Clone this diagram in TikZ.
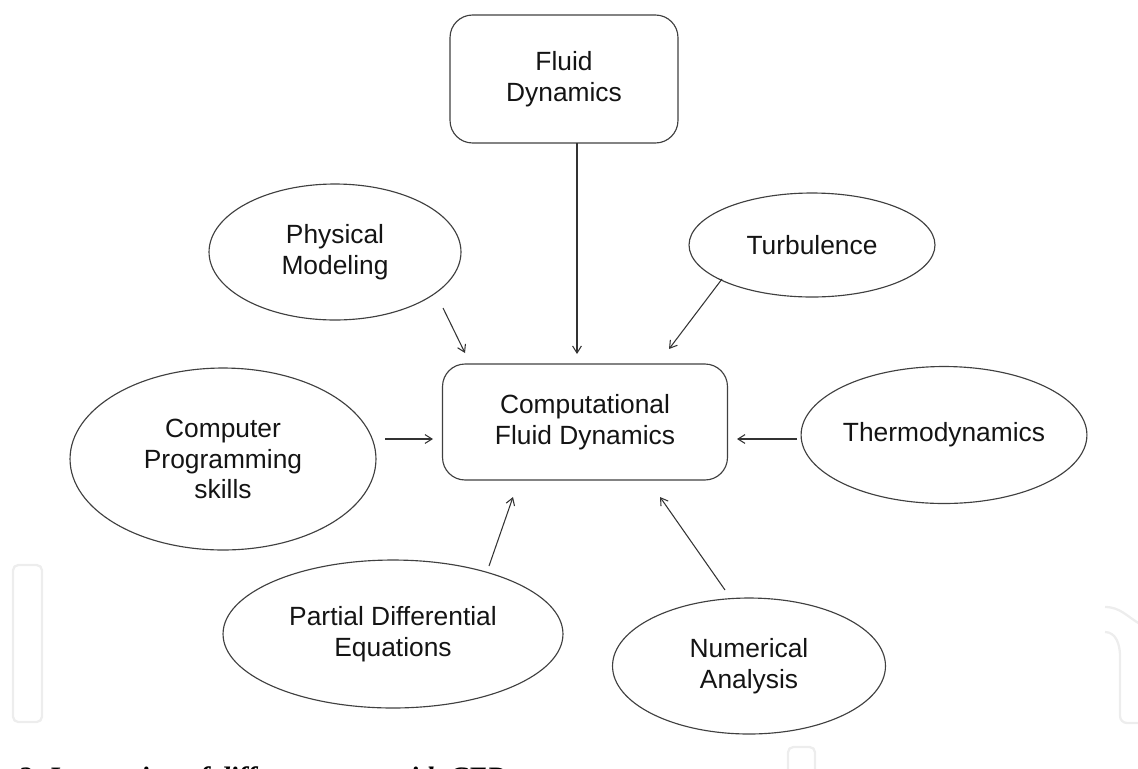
\documentclass[tikz,border=0pt]{standalone}
\usepackage{fontspec}
\setmainfont{Liberation Sans}
\newfontfamily\capfont{Liberation Serif}
\usetikzlibrary{shapes.geometric,arrows.meta,calc}

\begin{document}
\begin{tikzpicture}[x=0.02cm,y=-0.02cm,
        every node/.style={font=\fontsize{15}{17.5}\selectfont,text=black!92,align=center},
        field/.style={ellipse,draw=black!75,line width=0.65pt,inner sep=0pt},
        block/.style={rectangle,rounded corners=0.45cm,draw=black!75,line width=0.65pt,inner sep=0pt},
        link/.style={draw=black!80,line width=0.6pt,-{Straight Barb[length=4pt,width=5pt]}},
        logo/.style={draw=black!7,line width=1.3pt}]
        \useasboundingbox (0,0) rectangle (1138,768);
        \clip (0,0) rectangle (1138,768);
        % faint marks at the bottom
        \draw[logo,rounded corners=3pt] (13,565) rectangle (42,722);
        \draw[logo] (1105,607) to[out=0,in=150] (1140,624);
        \draw[logo] (1105,632) to[out=0,in=90] (1120,656) -- (1120,716) to[out=-90,in=180] (1127,723) -- (1140,723);
        \draw[logo,rounded corners=3pt] (788,747) rectangle (815,780);
        % centre and the areas round it
        \node[block,minimum width=5.7cm,minimum height=2.32cm] (cfd) at (585,422) {Computational\\Fluid Dynamics};
        \node[block,minimum width=4.56cm,minimum height=2.56cm] (fluid) at (564,79) {Fluid\\Dynamics};
        \node[field,minimum width=5.04cm,minimum height=2.72cm] (phys) at (335,252) {Physical\\Modeling};
        \node[field,minimum width=4.92cm,minimum height=2.08cm] (turb) at (812,245) {Turbulence};
        \node[field,minimum width=6.12cm,minimum height=3.64cm] (comp) at (223,459) {Computer\\Programming\\skills};
        \node[field,minimum width=5.64cm,minimum height=2.74cm] (thermo) at (944,435) {Thermodynamics};
        \node[field,minimum width=6.8cm,minimum height=2.96cm] (pde) at (393,634) {Partial Differential\\Equations};
        \node[field,minimum width=5.46cm,minimum height=2.72cm] (num) at (749,666) {Numerical\\Analysis};
        % arrows into the centre
        \draw[link] ($(fluid)+(13,64)$) -- ($(cfd)+(-8,-68)$);
        \draw[link] ($(phys)+(108,56)$) -- ($(cfd)+(-120,-69)$);
        \draw[link] ($(turb)+(-90,34)$) -- ($(cfd)+(84,-73)$);
        \draw[link] ($(comp)+(162,-20)$) -- ($(cfd)+(-152,17)$);
        \draw[link] ($(thermo)+(-147,4)$) -- ($(cfd)+(152,17)$);
        \draw[link] ($(pde)+(96,-68)$) -- ($(cfd)+(-72,75)$);
        \draw[link] ($(num)+(-24,-76)$) -- ($(cfd)+(75,75)$);
        % caption, cut by the lower edge
        \node[anchor=base west,font=\capfont\fontsize{16}{18}\selectfont\bfseries\itshape,text=black] (cap) at (12,786) {2. Interaction of different areas with CFD};
    \end{tikzpicture}
\end{document}
